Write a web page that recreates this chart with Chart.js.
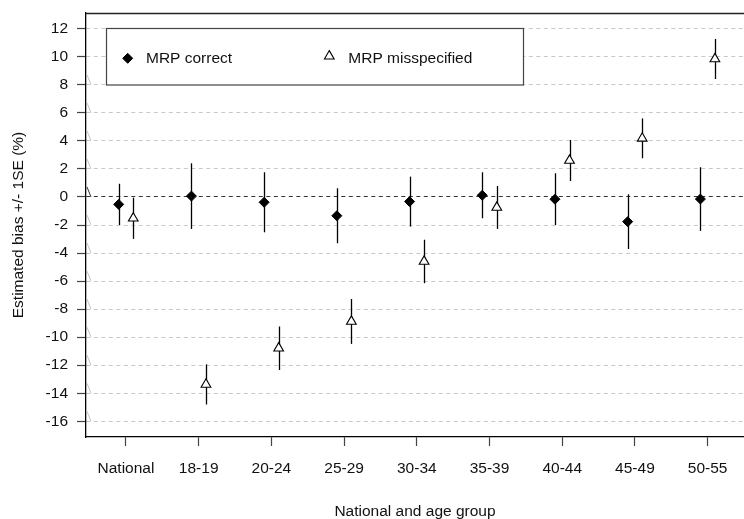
<!DOCTYPE html>
<html><head><meta charset="utf-8">
<script src="https://cdn.jsdelivr.net/npm/chart.js@4/dist/chart.umd.min.js"></script>
<style>html,body{margin:0;padding:0;background:#fff;overflow:hidden}canvas{display:block}</style>
</head><body>
<canvas id="c" width="744" height="519"></canvas>
<script>
// ---- data ----
const categories = ['National','18-19','20-24','25-29','30-34','35-39','40-44','45-49','50-55'];
const seriesNames = ['MRP correct','MRP misspecified'];
const correctBias = [-0.53, 0.06, -0.38, -1.34, -0.33, 0.12, -0.16, -1.76, -0.15];
const correctSE   = [1.47, 2.34, 2.14, 1.96, 1.78, 1.64, 1.85, 1.95, 2.27];
const misspecBias = [-1.52, -13.37, -10.79, -8.88, -4.6, -0.75, 2.6, 4.18, 9.84];
const misspecSE   = [1.47, 1.43, 1.55, 1.6, 1.55, 1.53, 1.46, 1.42, 1.43];
const yTicks = [12, 10, 8, 6, 4, 2, 0, -2, -4, -6, -8, -10, -12, -14, -16];
const xTitle = 'National and age group';
const yTitle = 'Estimated bias +/- 1SE (%)';

const FONT = '"Liberation Sans", Arial, Helvetica, sans-serif';
const FS = 15.5;
const posCorrect = categories.map((c, i) => i + 1);
const posMisspec = categories.map((c, i) => i + 1.2);
const tickPos = categories.map((c, i) => i + 1.1);

function diamond(ctx, x, y, r) {
  ctx.beginPath(); ctx.moveTo(x - r, y); ctx.lineTo(x, y - r); ctx.lineTo(x + r, y); ctx.lineTo(x, y + r); ctx.closePath();
  ctx.fillStyle = '#000'; ctx.fill(); ctx.strokeStyle = '#000'; ctx.lineWidth = 1; ctx.stroke();
}
function triangle(ctx, x, y, r) {
  ctx.beginPath();
  for (let k = 0; k < 3; k++) {
    const a = k * 2 * Math.PI / 3;
    const px = x + Math.sin(a) * r, py = y - Math.cos(a) * r;
    if (k === 0) ctx.moveTo(px, py); else ctx.lineTo(px, py);
  }
  ctx.closePath(); ctx.fillStyle = '#fff'; ctx.fill(); ctx.strokeStyle = '#000'; ctx.lineWidth = 1.1; ctx.stroke();
}

const errorBars = {
  id: 'errorBars',
  beforeDatasetsDraw(chart) {
    const {ctx, scales: {x, y}, chartArea} = chart;
    ctx.save();
    ctx.lineWidth = 1;
    yTicks.forEach(v => {
      if (v > 8) return;
      const py = y.getPixelForValue(v);
      ctx.strokeStyle = v === 0 ? '#333' : '#c4c4c4';
      ctx.beginPath(); ctx.moveTo(chartArea.left + 1, py - 10); ctx.lineTo(chartArea.left + 5, py); ctx.stroke();
    });
    ctx.strokeStyle = '#000'; ctx.lineWidth = 1.3;
    chart.data.datasets.forEach(ds => {
      ds.data.forEach((p, i) => {
        const px = Math.round(x.getPixelForValue(p.x)) + 0.5;
        ctx.beginPath();
        ctx.moveTo(px, y.getPixelForValue(p.y + ds.se[i]));
        ctx.lineTo(px, y.getPixelForValue(p.y - ds.se[i]));
        ctx.stroke();
      });
    });
    ctx.restore();
  },
  afterDraw(chart) {
    const {ctx, chartArea} = chart;
    ctx.save();
    ctx.strokeStyle = '#222'; ctx.lineWidth = 1.3;
    ctx.beginPath(); ctx.moveTo(chartArea.left, chartArea.top + 0.5); ctx.lineTo(chartArea.right, chartArea.top + 0.5); ctx.stroke();
    const bx = 106.5, by = 28.5, bw = 417, bh = 56.5;
    ctx.fillStyle = '#fff'; ctx.fillRect(bx, by, bw, bh);
    ctx.strokeStyle = '#444'; ctx.lineWidth = 1.2; ctx.strokeRect(bx, by, bw, bh);
    diamond(ctx, 127.7, 58.3, 5);
    triangle(ctx, 329.3, 56.2, 5.6);
    ctx.fillStyle = '#111'; ctx.font = FS + 'px ' + FONT; ctx.textBaseline = 'middle'; ctx.textAlign = 'left';
    ctx.fillText(seriesNames[0], 146, 59);
    ctx.fillText(seriesNames[1], 348.3, 59);
    ctx.restore();
  }
};

new Chart(document.getElementById('c'), {
  type: 'scatter',
  data: {
    datasets: [
      { label: seriesNames[0], data: posCorrect.map((x, i) => ({x, y: correctBias[i]})), se: correctSE,
        pointStyle: 'rectRot', pointRadius: 5, backgroundColor: '#000', borderColor: '#000', borderWidth: 1 },
      { label: seriesNames[1], data: posMisspec.map((x, i) => ({x, y: misspecBias[i]})), se: misspecSE,
        pointStyle: 'triangle', pointRadius: 5.6, backgroundColor: '#fff', borderColor: '#000', borderWidth: 1.1 }
    ]
  },
  options: {
    responsive: false, animation: false, devicePixelRatio: 1,
    layout: { autoPadding: false, padding: { top: 13, right: 0, left: 0, bottom: 0 } },
    plugins: { legend: { display: false }, tooltip: { enabled: false } },
    scales: {
      x: {
        type: 'linear', min: 0.55, max: 9.6,
        afterFit(s) { s.height = 82; s.paddingLeft = 0; s.paddingRight = 0; },
        afterBuildTicks(s) { s.ticks = tickPos.map(v => ({value: v})); },
        ticks: { autoSkip: false, maxRotation: 0, padding: 13, color: '#111', font: {family: FONT, size: FS},
                 callback: (v, i) => categories[i] },
        grid: { drawOnChartArea: false, drawTicks: true, tickLength: 9, tickColor: '#444', tickWidth: 1.2 },
        border: { display: true, color: '#000', width: 1.3 },
        title: { display: true, text: xTitle, color: '#111', font: {family: FONT, size: FS}, padding: {top: 0, bottom: -2} }
      },
      y: {
        type: 'linear', min: -17.12, max: 13.12,
        afterFit(s) { s.width = 86; s.paddingTop = 0; s.paddingBottom = 0; },
        afterBuildTicks(s) { s.ticks = yTicks.map(v => ({value: v})); },
        ticks: { autoSkip: false, padding: 9, color: '#111', font: {family: FONT, size: FS},
                 callback: v => String(v) },
        grid: { drawTicks: true, tickLength: 9, lineWidth: 1,
                color: c => (c.tick && c.tick.value === 0) ? '#333' : '#c8c8c8',
                tickColor: '#444', tickWidth: 1.2, tickBorderDash: [] },
        border: { display: true, color: '#000', width: 1.3, dash: [4, 3.5] },
        title: { display: true, text: yTitle, color: '#111', font: {family: FONT, size: FS}, padding: {top: 9, bottom: 0} }
      }
    }
  },
  plugins: [errorBars]
});
</script>
</body></html>
